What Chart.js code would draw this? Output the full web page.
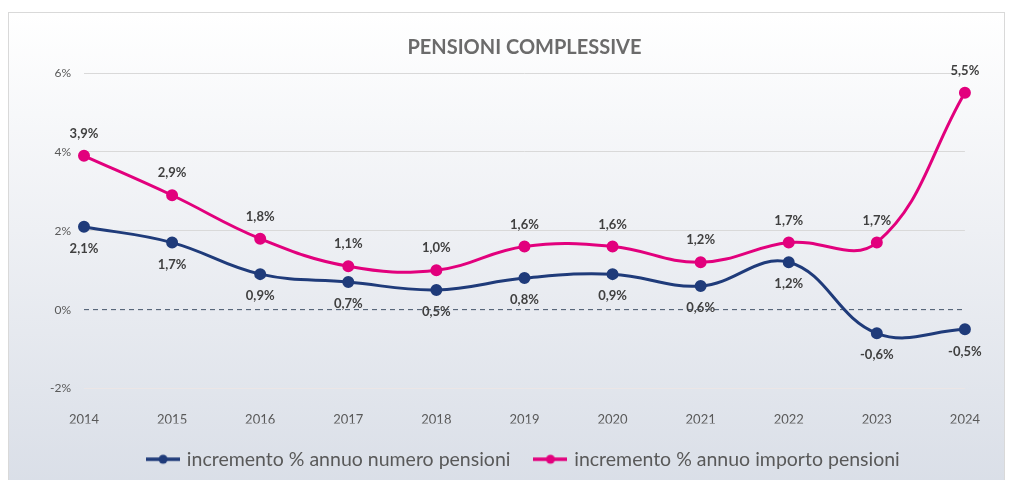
<!DOCTYPE html>
<html lang="it">
<head>
    <meta charset="UTF-8">
    <title>Pensioni complessive</title>
    <script src="https://cdn.jsdelivr.net/npm/chart.js"></script>
    <style>
        body {
            margin: 0;
            background: #ffffff;
            width: 1013px;
            height: 480px;
            overflow: hidden;
            position: relative;
        }
        .box {
            position: absolute;
            left: 8px;
            top: 12px;
            width: 997px;
            height: 483px;
            box-sizing: border-box;
            border: 1px solid #d9d9d9;
            background: linear-gradient(#ffffff 0%, #eef0f4 45%, #d9dee7 100%);
        }
        .chart-container {
            position: relative;
            width: 995px;
            height: 481px;
        }
    </style>
</head>
<body>
    <div class="box">
        <div class="chart-container">
            <canvas id="pensioniChart"></canvas>
        </div>
    </div>

    <script>
        const years = ["2014", "2015", "2016", "2017", "2018", "2019", "2020", "2021", "2022", "2023", "2024"];
        const numeroPensioni = [2.1, 1.7, 0.9, 0.7, 0.5, 0.8, 0.9, 0.6, 1.2, -0.6, -0.5];
        const importoPensioni = [3.9, 2.9, 1.8, 1.1, 1.0, 1.6, 1.6, 1.2, 1.7, 1.7, 5.5];
        const yTicks = [-2, 0, 2, 4, 6];

        const BLUE = "#1f3b7a";
        const PINK = "#e2007d";
        const FONT = "Lato, 'Open Sans', sans-serif";

        function fmt(v) {
            return v.toFixed(1).replace(".", ",") + "%";
        }

        // line + marker symbol for the legend
        function legendSymbol(color) {
            const c = document.createElement("canvas");
            c.width = 34;
            c.height = 12;
            const g = c.getContext("2d");
            g.strokeStyle = color;
            g.lineWidth = 3.5;
            g.beginPath();
            g.moveTo(0, 6);
            g.lineTo(34, 6);
            g.stroke();
            g.fillStyle = color;
            g.beginPath();
            g.arc(17, 6, 4.5, 0, Math.PI * 2);
            g.fill();
            return c;
        }

        const valueLabels = {
            id: "valueLabels",
            afterDatasetsDraw(chart) {
                const ctx = chart.ctx;
                ctx.save();
                ctx.font = "bold 13px " + FONT;
                ctx.fillStyle = "#404040";
                ctx.textAlign = "center";
                ctx.textBaseline = "middle";
                chart.data.datasets.forEach((ds, i) => {
                    chart.getDatasetMeta(i).data.forEach((pt, j) => {
                        ctx.fillText(fmt(ds.data[j]), pt.x, pt.y + ds.labelOffset);
                    });
                });
                ctx.restore();
            }
        };

        const zeroLine = {
            id: "zeroLine",
            beforeDatasetsDraw(chart) {
                const ctx = chart.ctx;
                const y = chart.scales.y.getPixelForValue(0);
                ctx.save();
                ctx.strokeStyle = "#44546a";
                ctx.lineWidth = 1;
                ctx.setLineDash([5, 4]);
                ctx.beginPath();
                ctx.moveTo(chart.chartArea.left, y);
                ctx.lineTo(chart.chartArea.right, y);
                ctx.stroke();
                ctx.restore();
            }
        };

        const ctx = document.getElementById("pensioniChart").getContext("2d");
        new Chart(ctx, {
            type: "line",
            data: {
                labels: years,
                datasets: [
                    {
                        label: "incremento % annuo numero pensioni",
                        data: numeroPensioni,
                        borderColor: BLUE,
                        backgroundColor: BLUE,
                        borderWidth: 3,
                        pointRadius: 4.5,
                        tension: 0.4,
                        labelOffset: 22,
                        symbol: legendSymbol(BLUE)
                    },
                    {
                        label: "incremento % annuo importo pensioni",
                        data: importoPensioni,
                        borderColor: PINK,
                        backgroundColor: PINK,
                        borderWidth: 3,
                        pointRadius: 4.5,
                        tension: 0.4,
                        labelOffset: -22,
                        symbol: legendSymbol(PINK)
                    }
                ]
            },
            options: {
                responsive: true,
                maintainAspectRatio: false,
                animation: false,
                layout: { padding: { left: 0, right: 32, top: 0, bottom: 15 } },
                plugins: {
                    tooltip: { enabled: false },
                    title: {
                        display: true,
                        fullSize: false,
                        text: "PENSIONI COMPLESSIVE",
                        color: "#6b6b6b",
                        font: { family: FONT, size: 20, weight: "bold" },
                        padding: { top: 23, bottom: 13 }
                    },
                    legend: {
                        position: "bottom",
                        fullSize: false,
                        labels: {
                            usePointStyle: true,
                            pointStyleWidth: 28,
                            padding: 26,
                            color: "#595959",
                            font: { family: FONT, size: 19.5 },
                            generateLabels(chart) {
                                return chart.data.datasets.map((ds, i) => ({
                                    text: ds.label,
                                    pointStyle: ds.symbol,
                                    fillStyle: ds.borderColor,
                                    strokeStyle: ds.borderColor,
                                    fontColor: "#595959",
                                    lineWidth: 0,
                                    hidden: false,
                                    datasetIndex: i
                                }));
                            }
                        }
                    }
                },
                scales: {
                    x: {
                        offset: false,
                        grid: { display: false, drawTicks: false },
                        border: { display: false },
                        ticks: {
                            padding: 24,
                            color: "#595959",
                            font: { family: FONT, size: 13 }
                        },
                        afterFit(scale) { scale.height = 35; }
                    },
                    y: {
                        min: yTicks[0],
                        max: yTicks[yTicks.length - 1],
                        afterBuildTicks(scale) {
                            scale.ticks = yTicks.map(v => ({ value: v }));
                        },
                        grid: {
                            drawTicks: false,
                            color: c => c.tick.value === 0 ? "rgba(0,0,0,0)" :
                                (c.tick.value === -2 ? "#ece6e6" : "#d9d9d9")
                        },
                        border: { display: false },
                        ticks: {
                            padding: 13,
                            color: "#595959",
                            font: { family: FONT, size: 12 },
                            callback: v => v + "%"
                        },
                        afterFit(scale) { scale.width = 75; }
                    }
                }
            },
            plugins: [zeroLine, valueLabels]
        });
    </script>
</body>
</html>
